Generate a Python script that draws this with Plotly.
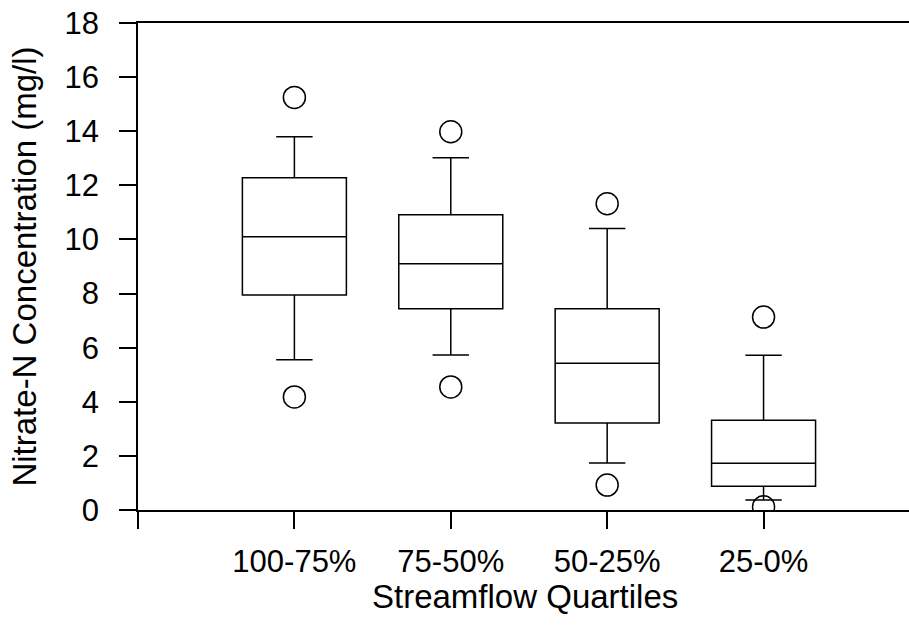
import plotly.graph_objects as go

categories = ["100-75%", "75-50%", "50-25%", "25-0%"]
positions = [1, 2, 3, 4]
q1 = [7.95, 7.44, 3.22, 0.88]
median = [10.10, 9.10, 5.42, 1.73]
q3 = [12.28, 10.91, 7.44, 3.32]
lower_whisker = [5.55, 5.73, 1.74, 0.37]
upper_whisker = [13.80, 13.02, 10.40, 5.72]
p95 = [15.25, 13.98, 11.32, 7.13]
p5 = [4.18, 4.55, 0.92, 0.12]
y_ticks = [0, 2, 4, 6, 8, 10, 12, 14, 16, 18]

family = "Liberation Sans, Arial, sans-serif"
tick_font = dict(family=family, size=31, color="black")
title_font = dict(family=family, size=33, color="black")

fig = go.Figure()
fig.add_trace(go.Box(
    x=positions, q1=q1, median=median, q3=q3,
    lowerfence=lower_whisker, upperfence=upper_whisker,
    width=0.665, whiskerwidth=0.35,
    boxpoints=False,
    fillcolor="rgba(255,255,255,0)",
    line=dict(color="black", width=1.5),
    showlegend=False, hoverinfo="skip",
))
fig.add_trace(go.Scatter(
    x=positions + positions, y=p95 + p5, mode="markers",
    marker=dict(symbol="circle-open", size=22, color="black",
                line=dict(width=1.5, color="black")),
    showlegend=False, hoverinfo="skip",
))

fig.update_layout(
    width=909, height=628,
    margin=dict(l=138, r=0, t=23, b=118),
    paper_bgcolor="white", plot_bgcolor="white",
    font=tick_font,
    xaxis=dict(
        range=[0, 4.93],
        tickvals=[0] + positions + [5],
        ticktext=[""] + categories + [""],
        ticks="outside", ticklen=17, tickwidth=1.5, tickcolor="black",
        showline=True, linecolor="black", linewidth=1.5, mirror=True,
        showgrid=False, zeroline=False,
        ticklabelstandoff=6,
        tickfont=tick_font,
    ),
    yaxis=dict(
        range=[0, 18],
        tickvals=y_ticks,
        ticks="outside", ticklen=17, tickwidth=1.5, tickcolor="black",
        showline=True, linecolor="black", linewidth=1.5,
        showgrid=False, zeroline=False,
        ticklabelstandoff=14,
        title=dict(text="Nitrate-N Concentration (mg/l)", font=title_font, standoff=18),
        tickfont=tick_font,
    ),
    annotations=[dict(
        text="Streamflow Quartiles", font=title_font, showarrow=False,
        xref="paper", yref="paper", x=0.502, y=(510 - 596) / 487,
        xanchor="center", yanchor="middle",
    )],
)

fig.write_html("out.html")
